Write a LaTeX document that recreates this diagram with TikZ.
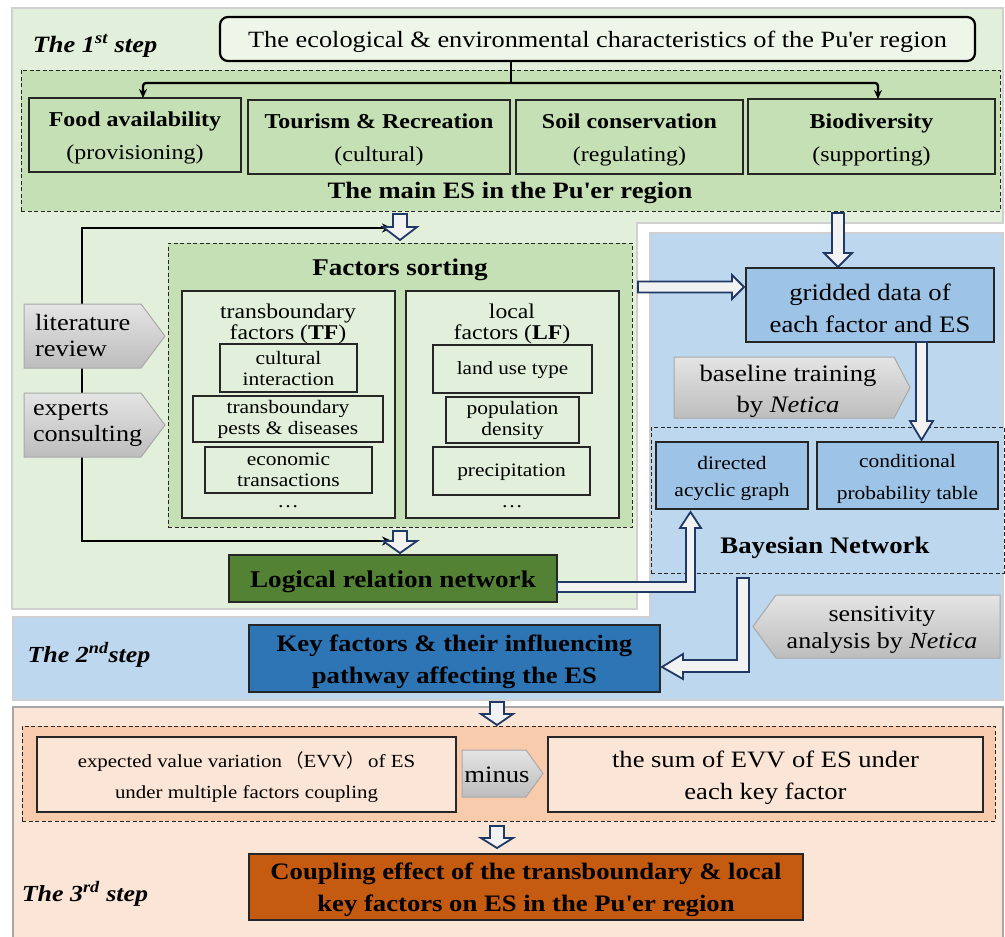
\documentclass[tikz,border=0pt]{standalone}
\usepackage{fontspec}
\setmainfont{Liberation Serif}[FakeStretch=1.13]
\newfontfamily\cjk{Noto Sans CJK SC}
\usetikzlibrary{arrows.meta,calc}
\definecolor{gpanel}{HTML}{E2EFDA}
\definecolor{gmid}{HTML}{C5E0B4}
\definecolor{gdark}{HTML}{548235}
\definecolor{bpanel}{HTML}{BDD7EE}
\definecolor{bbox}{HTML}{9DC3E6}
\definecolor{bdark}{HTML}{2E75B6}
\definecolor{opanel}{HTML}{FBE5D6}
\definecolor{omid}{HTML}{F8CBAD}
\definecolor{odark}{HTML}{C55A11}
\definecolor{navy}{HTML}{203864}
\definecolor{boxline}{HTML}{262626}
\definecolor{pborder}{HTML}{D0D0D0}
\definecolor{pborderdark}{HTML}{A6A6A6}
\definecolor{pentlight}{HTML}{E4E4E4}
\definecolor{pentdark}{HTML}{BDBDBD}
\definecolor{pentline}{HTML}{A8A8A8}
\newcommand\fs[2]{\fontsize{#1}{#2}\selectfont}
\newcommand\pu{Pu\textquotesingle er}
% box node (frame) + text node shifted slightly down
\newcommand\rect[7]{%
  \node[#1, minimum width={(#5)-(#3)}, minimum height={(#6)-(#4)}] (#2) at ({((#3)+(#5))/2},{((#4)+(#6))/2}) {};
  \node[#1, draw=none, fill=none, minimum width=0pt, minimum height=0pt, tshift] (#2-t) at (#2.center) {#7};}
\tikzset{
  base/.style={inner sep=0pt, outer sep=0pt, align=center},
  tshift/.style={yshift=-3pt},
  noshift/.style={tshift/.style={yshift=0pt}},
  smallshift/.style={tshift/.style={yshift=-1.5pt}},
  esbox/.style={base, draw=boxline, line width=1.3pt, fill=gmid},
  lbox/.style={base, draw=boxline, line width=1.3pt, fill=gpanel},
  bluebox/.style={base, draw=boxline, line width=1.3pt, fill=bbox},
  obox/.style={base, draw=boxline, line width=1.3pt, fill=opanel},
  dreg/.style={base, draw=black!85, line width=0.8pt, dash pattern=on 4pt off 2.5pt},
  harrow/.style={draw=navy, line width=1.8pt, fill=white!95!black, line join=miter},
  blk/.style={draw=black, line width=2.3pt, -{Stealth[length=10pt,width=9pt]}},
  pent/.style={top color=pentlight, bottom color=pentdark, draw=pentline, line width=1pt},
  panel/.style={line width=2.2pt, line join=miter},
  txt/.style={base}
}
\begin{document}
\begin{tikzpicture}[x=1pt,y=-1pt]
\useasboundingbox (0,0) rectangle (1005,937);
\fill[white] (0,0) rectangle (1005,937);
% ---------- panels ----------
\filldraw[panel, fill=bpanel, draw=pborder] (650,233) -- (1003,233) -- (1003,700) -- (13,700) -- (13,617) -- (650,617) -- cycle;
\filldraw[panel, fill=gpanel, draw=pborder] (12,8) -- (1003,8) -- (1003,223) -- (637,223) -- (637,609) -- (12,609) -- cycle;
\filldraw[panel, fill=opanel, draw=pborderdark] (13,940) -- (13,707) -- (1003,707) -- (1003,940);

% ---------- step 1 ----------
\node[txt, font=\fs{23.4}{26}\bfseries\itshape] (s1) at (95,46) {The 1\textsuperscript{st} step};
\rect{base, draw=black, line width=2.2pt, rounded corners=8pt, fill=gpanel!60!white, font=\fs{23.3}{26}}{top}{220}{17}{975}{61}{The ecological \& environmental characteristics of the \pu{} region}
\rect{dreg, fill=gmid}{esreg}{21}{70}{1000}{211}{}
\node[txt, tshift, font=\fs{23.5}{27}\bfseries] (estitle) at (510,190) {The main ES in the \pu{} region};

\rect{esbox, font=\fs{21.2}{33}}{food}{29}{98}{241}{172}{\textbf{Food availability}\\(provisioning)}
\rect{esbox, font=\fs{21.2}{33}}{tour}{248}{100}{510}{174}{\textbf{Tourism \& Recreation}\\(cultural)}
\rect{esbox, font=\fs{21.2}{33}}{soil}{516}{100}{743}{174}{\textbf{Soil conservation}\\(regulating)}
\rect{esbox, font=\fs{21.2}{33}}{bio}{748}{99}{995}{174}{\textbf{Biodiversity}\\(supporting)}

\coordinate (brt) at (top.south -| 511,0);
\coordinate (brj) at (511,83);
\draw[line width=2.3pt] (brt) -- (brj);
\draw[line width=2.3pt, -{Stealth[length=9pt,width=8pt]}, rounded corners=3pt] (brj) -- (143,83) -- (food.north -| 143,0);
\draw[line width=2.3pt, -{Stealth[length=9pt,width=8pt]}, rounded corners=3pt] (brj) -- (878,83) -- (bio.north -| 878,0);

% ---------- factors sorting ----------
\draw[blk] (82,385) -- (82,228) -- (392,228);
\draw[blk] (82,385) -- (82,541) -- (392,541);

\rect{dreg, fill=gmid}{fsreg}{168}{243}{632}{527}{}
\node[txt, tshift, font=\fs{24}{28}\bfseries] (fstitle) at (400,267) {Factors sorting};
\rect{lbox}{tf}{182}{291}{395}{518}{}
\rect{lbox}{lf}{406}{291}{619}{518}{}
\node[txt, tshift, font=\fs{21}{21}] (tft) at (288,321) {transboundary\\factors (\textbf{TF})};
\node[txt, tshift, font=\fs{21}{21}] (lft) at (512,321) {local\\factors (\textbf{LF})};
\rect{lbox, noshift, font=\fs{19}{21}}{ci}{220}{344}{357}{392}{cultural\\interaction}
\rect{lbox, noshift, font=\fs{19}{21}}{pd}{193}{396}{383}{442}{transboundary\\pests \& diseases}
\rect{lbox, noshift, font=\fs{19}{21}}{et}{205}{447}{372}{493}{economic\\transactions}
\node[txt, font=\fs{19}{22}] (tfd) at (288,507) {\dots};
\rect{lbox, smallshift, font=\fs{18.7}{21}}{lu}{433}{345}{592}{393}{land use type}
\rect{lbox, noshift, font=\fs{19}{21}}{pop}{446}{397}{579}{443}{population\\density}
\rect{lbox, smallshift, font=\fs{19}{21}}{pre}{433}{447}{590}{495}{precipitation}
\node[txt, font=\fs{19}{22}] (lfd) at (512,507) {\dots};

% gray pentagons left
\shadedraw[pent] (24,304) -- (141,304) -- (165,336) -- (141,368) -- (24,368) -- cycle;
\node[txt, anchor=west, align=left, font=\fs{23.4}{26}] (lit) at (35,335) {literature\\review};
\shadedraw[pent] (24,393) -- (141,393) -- (165,425) -- (141,457) -- (24,457) -- cycle;
\node[txt, anchor=west, align=left, font=\fs{23.2}{26}] (exp) at (33,424) {experts\\consulting};

% hollow arrows
\draw[harrow] (393,214) -- (407,214) -- (407,227) -- (417,227) -- (400,240) -- (383,227) -- (393,227) -- cycle;
\draw[harrow] (393,531) -- (407,531) -- (407,541) -- (417,541) -- (400,553) -- (383,541) -- (393,541) -- cycle;

\rect{base, draw=boxline, line width=1.3pt, fill=gdark, font=\fs{24}{28}\bfseries}{lrn}{229}{555}{557}{602}{Logical relation network}

% ---------- step 2 area ----------
\draw[harrow] (832,213) -- (844,213) -- (844,253) -- (852,253) -- (838,267) -- (824,253) -- (832,253) -- cycle;
\rect{bluebox, font=\fs{23.6}{32}}{grid}{746}{268}{994}{342}{gridded data of\\each factor and ES}
\draw[harrow] (638,281.5) -- (732,281.5) -- (732,275) -- (744,287) -- (732,299) -- (732,292.5) -- (638,292.5) -- cycle;

\shadedraw[pent] (674,357) -- (894,357) -- (910,387.5) -- (894,418) -- (674,418) -- cycle;
\node[txt, tshift, font=\fs{23.6}{31}] (bline) at (788,388) {baseline training\\by \textit{Netica}};

\rect{dreg, fill=bpanel}{bn}{651}{427}{1004}{573}{}
\node[txt, tshift, font=\fs{23.7}{27}\bfseries] (bntitle) at (825,545) {Bayesian Network};
\rect{bluebox, font=\fs{19}{27}}{dag}{656}{442}{808}{509}{directed\\acyclic graph}
\rect{bluebox, font=\fs{19}{32}}{cpt}{817}{442}{998}{509}{conditional\\probability table}

\draw[harrow] (916,342) -- (927,342) -- (927,421) -- (933,421) -- (921.5,440) -- (910,421) -- (916,421) -- cycle;

\draw[harrow] (lrn.east |- 0,582) -- (686,582) -- (686,528) -- (680,528) -- (690.5,512) -- (701,528) -- (695,528) -- (695,592) -- (lrn.east |- 0,592) -- cycle;

\draw[harrow] (737,578) -- (749,578) -- (749,672) -- (683,672) -- (683,679) -- (662,667) -- (683,654) -- (683,660) -- (737,660) -- cycle;

\shadedraw[pent] (753,626.5) -- (776,595) -- (1000,595) -- (1000,658) -- (776,658) -- cycle;
\node[txt, tshift, font=\fs{23}{27}] (sens) at (882,627) {sensitivity\\analysis by \textit{Netica}};

\node[txt, font=\fs{23}{26}\bfseries\itshape] (s2) at (89,655) {The 2\textsuperscript{nd}step};
\rect{base, draw=boxline, line width=1.3pt, fill=bdark, font=\fs{23.6}{32}\bfseries}{key}{249}{625}{660}{692}{Key factors \& their influencing\\pathway affecting the ES}

% ---------- step 3 ----------
\draw[harrow] (490,702) -- (504,702) -- (504,714) -- (513,714) -- (497,725) -- (481,714) -- (490,714) -- cycle;
\rect{dreg, fill=omid}{evreg}{22}{726}{995}{821}{}
\rect{obox, font=\fs{18.5}{31}}{evv}{37}{737}{456}{812}{expected value variation\,{\cjk （}EVV{\cjk ）}\,of ES\\under multiple factors coupling}
\shadedraw[pent] (462,750) -- (526,750) -- (543,773.5) -- (526,797) -- (462,797) -- cycle;
\node[txt, tshift, font=\fs{23.6}{26}] (minus) at (497,772) {minus};
\rect{obox, font=\fs{23.5}{32}}{sum}{548}{737}{983}{812}{the sum of EVV of ES under\\each key factor}
\draw[harrow] (490,826) -- (504,826) -- (504,838) -- (513,838) -- (497,848) -- (481,838) -- (490,838) -- cycle;
\rect{base, draw=boxline, line width=1.3pt, fill=odark, font=\fs{23.6}{32}\bfseries}{coup}{249}{854}{803}{920}{Coupling effect of the transboundary \& local\\key factors on ES in the \pu{} region}
\node[txt, font=\fs{23}{26}\bfseries\itshape] (s3) at (85,894) {The 3\textsuperscript{rd} step};
\end{tikzpicture}
\end{document}
